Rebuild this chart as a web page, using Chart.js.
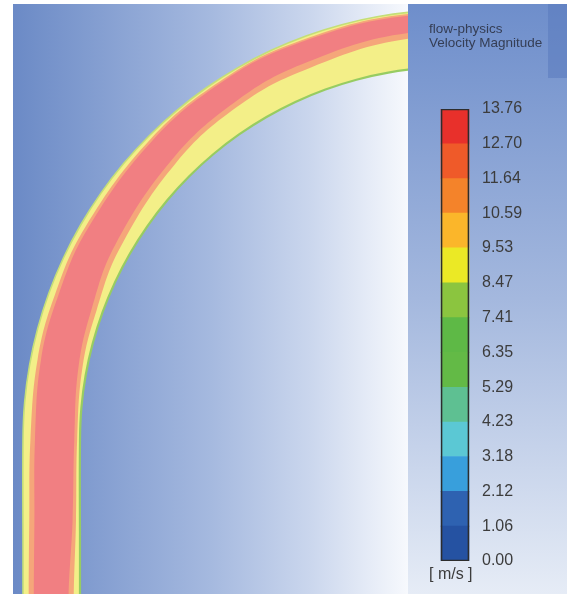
<!DOCTYPE html>
<html>
<head>
<meta charset="utf-8">
<script src="https://cdn.jsdelivr.net/npm/chart.js@4/dist/chart.umd.min.js"></script>
<style>
  html, body { margin: 0; padding: 0; background: #ffffff; }
  #wrap { position: relative; width: 567px; height: 594px; overflow: hidden; }
  #flow { position: absolute; left: 0; top: 0; }
  #scale { position: absolute; left: 408px; top: 0; }
</style>
</head>
<body>
<div id="wrap">
  <canvas id="flow" width="567" height="594"></canvas>
  <canvas id="scale" width="159" height="594"></canvas>
</div>
<script>
// ---- Colour scale: velocity magnitude contour levels [m/s] ----
const levelLabels = ['0.00', '1.06', '2.12', '3.18', '4.23', '5.29', '6.35',
                     '7.41', '8.47', '9.53', '10.59', '11.64', '12.70', '13.76'];
const levelColors = ['#2552a2', '#2e62b1', '#389fdc', '#5bc8d4', '#5ec092', '#63ba46',
                     '#5eb946', '#8bc53f', '#ebe925', '#fbb62a', '#f4832a', '#ef5a29', '#e8302b'];
const unitLabel = '[ m/s ]';
const titleLines = ['flow-physics', 'Velocity Magnitude'];

// ---- Pipe bend geometry (domain units, y pointing up) ----
const bendCentre = { x: 440, y: 154 };
const outerRadius = 430;
const pipeWidth = 57;

// ---- Measuring stations: straight inlet leg (depth below the bend entry), then the bend (angle, deg) ----
const stationType  = ['leg', 'leg', 'leg', 'bend', 'bend', 'bend', 'bend', 'bend', 'bend', 'bend', 'bend', 'bend'];
const stationValue = [220, 154, 80, 0, 11, 20, 30, 45, 57, 68, 84, 100];

// Contour boundaries across the section (0 = outer wall, 1 = inner wall)
const orangeOuterEdge = [0.10, 0.10, 0.11, 0.13, 0.12, 0.11, 0.09, 0.06, 0.04, 0.04, 0.03, 0.03];
const redOuterEdge    = [0.19, 0.19, 0.20, 0.21, 0.18, 0.17, 0.14, 0.10, 0.07, 0.07, 0.06, 0.06];
const redInnerEdge    = [0.79, 0.80, 0.87, 0.90, 0.85, 0.80, 0.70, 0.58, 0.49, 0.44, 0.36, 0.34];
const orangeInnerEdge = [0.88, 0.89, 0.93, 0.95, 0.92, 0.89, 0.80, 0.67, 0.58, 0.55, 0.46, 0.44];

// Wall outline resolution
const wallType  = ['leg', 'leg', 'leg', 'bend', 'bend', 'bend', 'bend', 'bend', 'bend', 'bend', 'bend', 'bend',
                   'bend', 'bend', 'bend', 'bend', 'bend', 'bend', 'bend', 'bend', 'bend', 'bend', 'bend', 'bend'];
const wallValue = [220, 110, 0, 5, 10, 15, 20, 25, 30, 35, 40, 45, 50, 55, 60, 65, 70, 75, 80, 85, 90, 95, 100, 105];

// Band fill colours (as shaded on the pipe surface)
const pipeYellow = '#f3ef88';
const pipeOrange = '#f5a67a';
const pipeRed    = '#f17f82';

const labelFont = "'Liberation Sans', Arial, sans-serif";

function sectionPoint(type, value, frac) {
  const r = outerRadius - frac * pipeWidth;
  if (type === 'leg') {
    return { x: bendCentre.x - r, y: bendCentre.y - value };
  }
  const a = value * Math.PI / 180;
  return { x: bendCentre.x - r * Math.cos(a), y: bendCentre.y + r * Math.sin(a) };
}

function edgeLine(types, values, fracs) {
  return types.map((t, i) => sectionPoint(t, values[i], Array.isArray(fracs) ? fracs[i] : fracs));
}

function band(types, values, fracA, fracB) {
  const a = edgeLine(types, values, fracA);
  const b = edgeLine(types, values, fracB).reverse();
  return a.concat(b);
}

function bandDataset(points, color, order) {
  return {
    data: points, showLine: true, fill: 'shape', backgroundColor: color,
    borderWidth: 0, borderColor: 'rgba(0,0,0,0)', pointRadius: 0, tension: 0.4,
    order: order, clip: 0
  };
}

function wallDataset(points, color, width, order) {
  return {
    data: points, showLine: true, fill: false, borderColor: color, borderWidth: width,
    pointRadius: 0, tension: 0.4, order: order, clip: 0
  };
}

// Panel backgrounds behind the contour plot and colour scale
const panelPlugin = {
  id: 'panels',
  beforeDraw(chart) {
    const { ctx, chartArea: a, width, height } = chart;
    ctx.save();
    ctx.fillStyle = '#ffffff';
    ctx.fillRect(0, 0, width, height);

    const g = ctx.createLinearGradient(a.left, 0, a.right, 0);
    g.addColorStop(0, '#6b8ac6');
    g.addColorStop(0.5, '#a5b9df');
    g.addColorStop(0.75, '#cad6ed');
    g.addColorStop(1, '#f7f9fd');
    ctx.fillStyle = g;
    ctx.fillRect(a.left, a.top, a.right - a.left, a.bottom - a.top);

    const g2 = ctx.createLinearGradient(0, a.top, 0, a.bottom);
    g2.addColorStop(0, '#6e8ecb');
    g2.addColorStop(0.5, '#a4b8de');
    g2.addColorStop(1, '#e6ecf6');
    ctx.fillStyle = g2;
    ctx.fillRect(a.right, a.top, width - a.right, a.bottom - a.top);

    ctx.fillStyle = 'rgba(90,122,190,0.55)';
    ctx.fillRect(548, a.top, width - 548, 74);
    ctx.restore();
  }
};

new Chart(document.getElementById('flow'), {
  type: 'scatter',
  data: {
    datasets: [
      wallDataset(edgeLine(wallType, wallValue, 0), '#c4de78', 1.6, 0),
      wallDataset(edgeLine(wallType, wallValue, 1), '#97cc62', 2.2, 1),
      bandDataset(band(stationType, stationValue, redOuterEdge, redInnerEdge), pipeRed, 2),
      bandDataset(band(stationType, stationValue, orangeOuterEdge, orangeInnerEdge), pipeOrange, 3),
      bandDataset(band(wallType, wallValue, 0, 1), pipeYellow, 4)
    ]
  },
  options: {
    responsive: false,
    animation: false,
    devicePixelRatio: 1,
    layout: { padding: { left: 13, top: 4, right: 159, bottom: 0 } },
    elements: { line: { capBezierPoints: false } },
    scales: {
      x: { type: 'linear', min: 0, max: 395, display: false },
      y: { type: 'linear', min: 0, max: 590, display: false }
    },
    plugins: { legend: { display: false }, tooltip: { enabled: false } }
  },
  plugins: [panelPlugin]
});

// ---- Colour bar ----
const levelValues = levelLabels.map(Number);
const barSets = levelColors.map((c, i) => ({
  data: [[levelValues[i], levelValues[i + 1]]],
  backgroundColor: c,
  borderWidth: 0,
  barThickness: 28,
  grouped: false,
  order: 1
}));
barSets.push({
  data: [[levelValues[0], levelValues[levelValues.length - 1]]],
  backgroundColor: 'rgba(0,0,0,0)',
  borderColor: '#2d2d2d',
  borderWidth: 1,
  borderSkipped: false,
  barThickness: 28,
  grouped: false,
  order: 0
});

new Chart(document.getElementById('scale'), {
  type: 'bar',
  data: { labels: ['v'], datasets: barSets },
  options: {
    responsive: false,
    animation: false,
    devicePixelRatio: 1,
    layout: { padding: { left: 21, top: 0, right: 0, bottom: 0 } },
    scales: {
      x: { display: false },
      y: {
        position: 'right',
        min: levelValues[0],
        max: levelValues[levelValues.length - 1],
        afterBuildTicks(scale) { scale.ticks = levelValues.map(v => ({ value: v })); },
        afterFit(scale) { scale.width = 86; },
        grid: { display: false, drawTicks: false },
        border: { display: false },
        ticks: {
          autoSkip: false,
          padding: 1,
          color: '#3c3c3c',
          font: { family: labelFont, size: 16 },
          callback: (v, i) => levelLabels[i]
        }
      }
    },
    plugins: {
      legend: { display: false },
      tooltip: { enabled: false },
      title: {
        display: true,
        text: titleLines,
        align: 'start',
        color: '#353e55',
        font: { family: labelFont, size: 13.5, weight: 'normal', lineHeight: '14px' },
        padding: { top: 22, bottom: 59 }
      },
      subtitle: {
        display: true,
        position: 'bottom',
        text: unitLabel,
        align: 'start',
        color: '#3c3c3c',
        font: { family: labelFont, size: 16, weight: 'normal', lineHeight: '16px' },
        padding: { top: 6, bottom: 11 }
      }
    }
  }
});
</script>
</body>
</html>
